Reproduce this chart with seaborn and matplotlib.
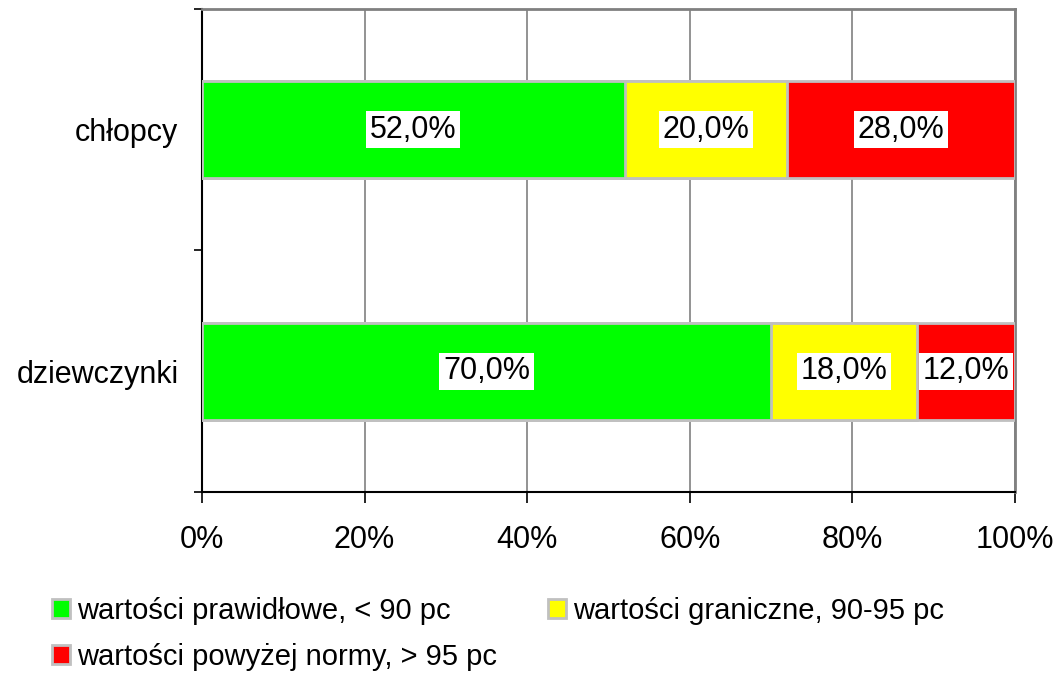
import matplotlib
matplotlib.use("Agg")
import matplotlib.pyplot as plt
from matplotlib.patches import Patch
import numpy as np
import pandas as pd
import seaborn as sns

# Data
categories = ["chłopcy", "dziewczynki"]
normal = [52.0, 70.0]
borderline = [20.0, 18.0]
above = [28.0, 12.0]
series_names = ["wartości prawidłowe, < 90 pc",
                "wartości graniczne, 90-95 pc",
                "wartości powyżej normy, > 95 pc"]
colors = ["#00ff00", "#ffff00", "#ff0000"]
xtick_labels = ["0%", "20%", "40%", "60%", "80%", "100%"]

sns.set_style("white")
plt.rcParams["font.family"] = ["Liberation Sans", "DejaVu Sans"]
plt.rcParams["text.color"] = "black"
plt.rcParams["xtick.color"] = "black"
plt.rcParams["ytick.color"] = "black"
plt.rcParams["axes.labelcolor"] = "black"

FS = 22
LEG_FS = 21

fig = plt.figure(figsize=(10.6, 6.75), dpi=100)
ax = fig.add_axes([0.1906, 0.2711, 0.9575 - 0.1906, 0.9867 - 0.2711])

normal_a = np.array(normal)
border_a = np.array(borderline)
above_a = np.array(above)
cum1 = normal_a
cum2 = normal_a + border_a
cum3 = cum2 + above_a

df = pd.DataFrame({"cat": categories, "c1": cum1, "c2": cum2, "c3": cum3})

edge = "#c0c0c0"
# stacked bars drawn as overlapping cumulative totals (back to front)
for col, colr in zip(["c3", "c2", "c1"], colors[::-1]):
    sns.barplot(data=df, x=col, y="cat", orient="h", color=colr,
                width=0.4, edgecolor=edge, linewidth=2, ax=ax,
                saturation=1, zorder=3)

# value labels
starts = [np.zeros(2), cum1, cum2]
vals = [normal_a, border_a, above_a]
for s, v in zip(starts, vals):
    for i in range(len(categories)):
        ax.text(s[i] + v[i] / 2, i, f"{v[i]:.1f}%".replace(".", ","),
                ha="center", va="center", fontsize=FS, zorder=5,
                bbox=dict(facecolor="white", edgecolor="none",
                          boxstyle="square,pad=0.12"))

ax.set_xlim(0, 100)
ax.set_ylim(1.5, -0.5)
ax.set_xticks(np.arange(0, 101, 20))
ax.set_xticklabels(xtick_labels, fontsize=FS)
ax.set_yticks(range(len(categories)))
ax.set_yticklabels(categories, fontsize=FS)
ax.set_yticks([-0.5, 0.5, 1.5], minor=True)
ax.tick_params(axis="y", which="major", length=0, pad=17)
ax.tick_params(axis="y", which="minor", length=6, width=1.2, color="black", left=True)
ax.tick_params(axis="x", which="major", length=8, width=1.2, color="black",
               bottom=True, pad=16)
ax.set_xlabel("")
ax.set_ylabel("")

ax.xaxis.grid(True, color="#808080", linewidth=1.2, zorder=0)
ax.set_axisbelow(True)

for side in ["top", "right"]:
    ax.spines[side].set_color("#808080")
    ax.spines[side].set_linewidth(2)
for side in ["left", "bottom"]:
    ax.spines[side].set_color("black")
    ax.spines[side].set_linewidth(1.5)

handles = [Patch(facecolor=colors[0], edgecolor=edge, linewidth=2, label=series_names[0]),
           Patch(facecolor=colors[2], edgecolor=edge, linewidth=2, label=series_names[2]),
           Patch(facecolor=colors[1], edgecolor=edge, linewidth=2, label=series_names[1])]
fig.legend(handles=handles, ncol=2, loc="upper left",
           bbox_to_anchor=(0.049, 0.116), frameon=False, fontsize=LEG_FS,
           handlelength=0.62, handleheight=0.62, handletextpad=0.24,
           columnspacing=1.75, labelspacing=0.62, borderaxespad=0, borderpad=0)

fig.savefig("out.png", dpi=100, facecolor="white")
